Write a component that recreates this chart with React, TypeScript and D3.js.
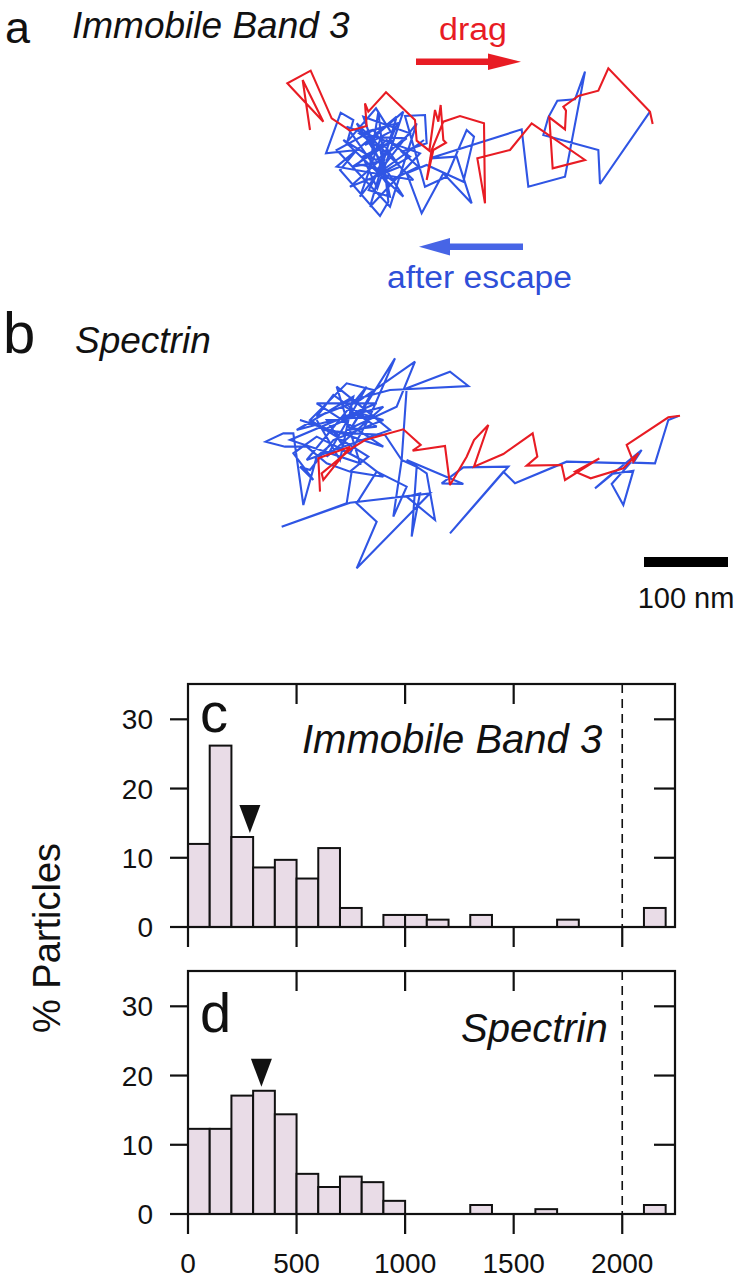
import React from 'react';
import * as d3 from 'd3';

// ---------- Trajectory data (trace units; 252 units = 100 nm) ----------
const band3Drag: [number, number][] = [
  [120,270],[98,120],[160,245],[52,130],[122,92],[185,235],[240,272],[290,258],[285,190],[295,215],
  [348,157],[435,240],[440,302],[478,332],[495,210],[505,245],[512,195],[520,300],[528,308],[490,330],
  [470,420],[485,330],[520,245],[570,228],[642,250],[645,490],[622,355],[720,330],[785,250],[945,360],
  [848,385],[838,232],[885,268],[888,212],[880,200],[925,168],[985,152],[1015,85],[1140,215],[1148,252]
];
const band3Escape: [number, number][] = [
  [1140,215],[990,432],[985,330],[820,285],[835,232],[862,182],[915,178],[945,95],[885,410],[775,440],
  [755,268],[480,355],[560,350],[605,490],[520,400],[455,520],[410,400],[470,375],[580,425],[612,290],
  [590,270],[530,410],[465,440],[405,228],[465,225],[470,310],[395,335],[445,380],[365,420],[300,375],
  [325,215],[355,485],[330,528],[210,390],[260,330],[168,340],[212,218],[250,240],[232,305],[318,205],
  [362,275],[285,315],[400,215],[322,445],[278,350],[372,300],[248,380],[342,362],[296,450],[360,470],
  [330,325],[268,280],[382,250],[318,405],[462,300],[298,420],[420,350],[350,300],[300,340],[262,372],
  [345,390],[290,290],[410,295],[318,360],[220,300],[400,470],[260,250],[430,420],[200,380],[380,230],
  [300,500],[450,340],[230,260],[350,430],[280,230],[420,280],[240,440],[390,380],[310,270],[200,330],
  [360,500],[440,250],[270,470],[330,300]
];
const spectrinDrag: [number, number][] = [
  [210,515],[205,415],[300,380],[220,480],[215,460],[305,385],[345,360],[460,328],[512,375],[488,392],
  [585,378],[600,495],[650,410],[672,360],[715,315],[672,440],[760,402],[848,340],[862,410],[830,437],
  [935,435],[945,480],[1048,415],[975,455],[1022,475],[1120,445],[1165,400],[1150,425],[1130,375],
  [1255,292],[1290,287]
];
const spectrinEscape: [number, number][] = [
  [1285,288],[1255,300],[1215,430],[1150,428],[1175,390],[1035,505],[1085,462],[1150,452],[1120,555],
  [1085,492],[1140,430],[950,425],[795,490],[760,455],[600,640],[775,440],[640,442],[575,490],[640,492],
  [470,420],[530,460],[555,600],[470,530],[510,520],[485,650],[500,440],[455,420],[430,590],[470,500],
  [380,455],[320,550],[380,605],[320,745],[540,520],[300,548],[95,620],[290,550],[305,455],[400,470],
  [335,420],[245,372],[200,410],[160,555],[130,340],[100,340],[47,365],[105,380],[170,380],[230,430],
  [300,455],[355,410],[180,300],[290,190],[370,210],[300,330],[435,115],[355,300],[250,225],[200,290],
  [330,240],[495,125],[440,260],[290,330],[380,320],[270,250],[420,210],[655,198],[600,155],[470,205],
  [455,420],[405,345],[310,340],[220,330],[330,280],[400,300],[250,360],[180,450],[150,440],[190,480],
  [130,400],[200,350],[300,400],[360,290],[230,300],[280,380],[260,340],[210,320],[150,300],[400,380],
  [200,250],[380,250],[120,360],[330,430],[260,200],[420,330],[170,420],[350,200],[230,410],[400,260],
  [140,330],[310,230],[270,420],[200,300]
];
const UNITS_PER_NM = 2.52;
const scaleBarNm = 100;

// ---------- Histogram data ----------
const binStarts = [0,100,200,300,400,500,600,700,800,900,1000,1100,1200,1300,1400,1500,1600,1700,1800,1900,2000,2100];
const binWidth = 100;
const band3Pct = [12.0,26.2,13.0,8.6,9.7,7.0,11.4,2.75,0,1.74,1.74,1.06,0,1.74,0,0,0,1.06,0,0,0,2.75];
const spectrinPct = [12.3,12.3,17.1,17.8,14.4,5.8,3.9,5.4,4.6,1.9,0,0,0,1.3,0,0,0.7,0,0,0,0,1.3];
const band3Median = 285;
const spectrinMedian = 338;
const xTicks = [0,500,1000,1500,2000];
const yTicks = [0,10,20,30];
const cutoff = 2000;

const FONT = "'Liberation Sans', Arial, Helvetica, sans-serif";
const RED = '#e81c24';
const BLUE = '#2f55e4';
const BAR_FILL = '#e9dce7';

const xH = d3.scaleLinear().domain([0, 2243]).range([188, 675]);

function Trajectory({ data, color, xs, ys }: any) {
  const line = d3.line<[number, number]>().x(d => xs(d[0])).y(d => ys(d[1])).curve(d3.curveLinear);
  return <path d={line(data) || ''} fill="none" stroke={color} strokeWidth={2.1} strokeLinejoin="miter" strokeMiterlimit={3} />;
}

function Histogram({ values, y, label, title, titleX, titleY, labelY, median, showXLabels }: any) {
  const [y0, yTop] = y.range();
  const x0 = xH(0), x1 = xH.domain()[1];
  const xr = xH(x1);
  const medianBin = binStarts.findIndex((b: number) => median >= b && median < b + binWidth);
  const tipY = y(values[medianBin]) - 4;
  const mx = xH(median);
  return (
    <g>
      {binStarts.map((b, i) => values[i] > 0 ? (
        <rect key={i} x={xH(b)} y={y(values[i])} width={xH(b + binWidth) - xH(b)} height={y0 - y(values[i])}
          fill={BAR_FILL} stroke="#111" strokeWidth={2} />
      ) : null)}
      <line x1={xH(cutoff)} x2={xH(cutoff)} y1={yTop} y2={y0} stroke="#111" strokeWidth={1.6} strokeDasharray="9 6" />
      <rect x={x0} y={yTop} width={xr - x0} height={y0 - yTop} fill="none" stroke="#111" strokeWidth={2.2} />
      {xTicks.map(t => (
        <g key={t}>
          <line x1={xH(t)} x2={xH(t)} y1={y0} y2={y0 + 20} stroke="#111" strokeWidth={2.2} />
          {t > 0 && t < cutoff ? <line x1={xH(t)} x2={xH(t)} y1={yTop} y2={yTop + 20} stroke="#111" strokeWidth={2.2} /> : null}
          {showXLabels ? <text x={xH(t)} y={1273} textAnchor="middle" fontSize={28} fontFamily={FONT} fill="#111">{t}</text> : null}
        </g>
      ))}
      {yTicks.map(t => (
        <g key={t}>
          <line x1={x0 - 18} x2={x0} y1={y(t)} y2={y(t)} stroke="#111" strokeWidth={2.2} />
          {t > 0 ? <line x1={xr - 21} x2={xr} y1={y(t)} y2={y(t)} stroke="#111" strokeWidth={2.2} /> : null}
          <text x={153} y={y(t)} dy="0.36em" textAnchor="end" fontSize={28} fontFamily={FONT} fill="#111">{t}</text>
        </g>
      ))}
      <path d={`M${mx - 10.5},${tipY - 28}L${mx + 10.5},${tipY - 28}L${mx},${tipY}Z`} fill="#111" />
      <text x={200} y={labelY} fontSize={56} fontFamily={FONT} fill="#111">{label}</text>
      <text x={titleX} y={titleY} fontSize={40} fontStyle="italic" fontFamily={FONT} fill="#111">{title}</text>
    </g>
  );
}

export default function App() {
  const xA = d3.scaleLinear().domain([0, 1260]).range([270, 690]);
  const yA = d3.scaleLinear().domain([0, 540]).range([40, 220]);
  const xB = d3.scaleLinear().domain([0, 1350]).range([250, 700]);
  const yB = d3.scaleLinear().domain([0, 780]).range([320, 580]);
  const yC = d3.scaleLinear().domain([0, 35.1]).range([927, 684]);
  const yD = d3.scaleLinear().domain([0, 35.1]).range([1214, 971]);
  const barLen = xB(scaleBarNm * UNITS_PER_NM) - xB(0);

  return (
    <svg width={739} height={1280} style={{ position: 'absolute', left: 0, top: 0, background: '#fff' }}>
      <rect width={739} height={1280} fill="#fff" />
      {/* Panel a */}
      <text x={5} y={43} fontSize={45} fontFamily={FONT} fill="#111">a</text>
      <text x={72} y={38} fontSize={37} fontStyle="italic" fontFamily={FONT} fill="#111">Immobile Band 3</text>
      <text x={439} y={40} fontSize={31} fontFamily={FONT} fill={RED} textLength={68} lengthAdjust="spacingAndGlyphs">drag</text>
      <rect x={416} y={58.5} width={74} height={6.5} fill={RED} />
      <path d="M488,53.5L521,61.7L488,70Z" fill={RED} />
      <Trajectory data={band3Escape} color={BLUE} xs={xA} ys={yA} />
      <Trajectory data={band3Drag} color={RED} xs={xA} ys={yA} />
      <rect x={448} y={243.5} width={75} height={6.5} fill="#4765e6" />
      <path d="M450,238L419,246.7L450,255.5Z" fill="#4765e6" />
      <text x={387} y={288} fontSize={31} fontFamily={FONT} fill="#2f4fd8" textLength={185} lengthAdjust="spacingAndGlyphs">after escape</text>

      {/* Panel b */}
      <text x={3} y={353} fontSize={58} fontFamily={FONT} fill="#111">b</text>
      <text x={75} y={353} fontSize={37} fontStyle="italic" fontFamily={FONT} fill="#111">Spectrin</text>
      <Trajectory data={spectrinEscape} color={BLUE} xs={xB} ys={yB} />
      <Trajectory data={spectrinDrag} color={RED} xs={xB} ys={yB} />
      <rect x={644} y={557} width={barLen} height={10} fill="#000" />
      <text x={686} y={608} textAnchor="middle" fontSize={29} fontFamily={FONT} fill="#111">100 nm</text>

      {/* Histograms */}
      <Histogram values={band3Pct} y={yC} label="c" labelY={732} title="Immobile Band 3" titleX={302} titleY={753} median={band3Median} showXLabels={false} />
      <Histogram values={spectrinPct} y={yD} label="d" labelY={1032} title="Spectrin" titleX={461} titleY={1042} median={spectrinMedian} showXLabels={true} />
      <text transform="translate(60,938) rotate(-90)" textAnchor="middle" fontSize={38} fontFamily={FONT} fill="#111">% Particles</text>
    </svg>
  );
}
